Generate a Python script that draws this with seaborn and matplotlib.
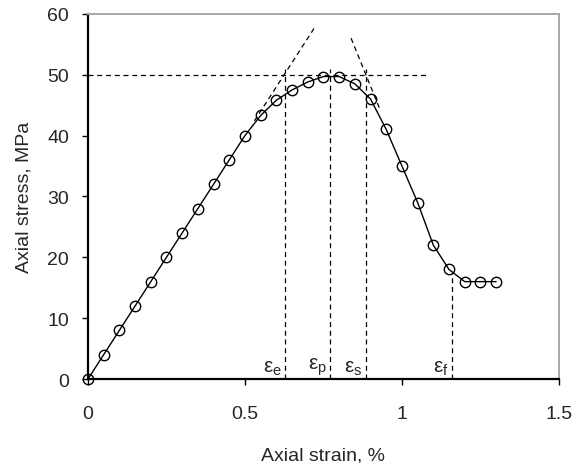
import pandas as pd
import seaborn as sns
import matplotlib.pyplot as plt

# Data
strain = [0, 0.05, 0.1, 0.15, 0.2, 0.25, 0.3, 0.35, 0.4, 0.45, 0.5, 0.55, 0.6, 0.65,
          0.7, 0.75, 0.8, 0.85, 0.9, 0.95, 1.0, 1.05, 1.1, 1.15, 1.2, 1.25, 1.3]
stress = [0, 4, 8, 12, 16, 20, 24, 28, 32, 36, 40, 43.3, 45.8, 47.5,
          48.8, 49.7, 49.7, 48.5, 46, 41, 35, 29, 22, 18, 16, 16, 16]

# Characteristic strains and their marker heights
eps_names = ["e", "p", "s", "f"]
eps_x = [0.627, 0.771, 0.885, 1.16]
eps_top = [51, 51, 51, 17.5]

peak_line_x = [0, 1.08]
peak_line_y = [50, 50]
tangent1_x = [0.53, 0.725]
tangent1_y = [42.4, 58]
tangent2_x = [0.838, 0.93]
tangent2_y = [56, 44.3]

sns.set_style("ticks")
plt.rcParams["font.family"] = ["Liberation Sans", "DejaVu Sans"]
plt.rcParams["mathtext.fontset"] = "custom"
plt.rcParams["mathtext.rm"] = "Liberation Sans"

df = pd.DataFrame({"strain": strain, "stress": stress})

fig = plt.figure(figsize=(5.75, 4.64), dpi=100)
ax = fig.add_axes([0.153, 0.181, 0.819, 0.787])

dash = dict(color="black", lw=0.9, dashes=(4, 3))
ax.plot(peak_line_x, peak_line_y, **dash)
ax.plot(tangent1_x, tangent1_y, **dash)
ax.plot(tangent2_x, tangent2_y, **dash)
for name, x, top in zip(eps_names, eps_x, eps_top):
    ax.plot([x, x], [0, top], **dash)
    ax.text(x - 0.01, 0.3, r"$\mathrm{ε_%s}$" % name, ha="right", va="bottom",
            fontsize=15)

sns.lineplot(data=df, x="strain", y="stress", ax=ax, color="black", lw=1,
             marker="o", markersize=7.5, markerfacecolor="none",
             markeredgecolor="black", markeredgewidth=1, clip_on=False)

ax.set_xlim(0, 1.5)
ax.set_ylim(0, 60)
ax.set_xticks([0, 0.5, 1, 1.5])
ax.set_xticklabels(["0", "0.5", "1", "1.5"])
ax.set_yticks(range(0, 61, 10))
ax.tick_params(axis="both", labelsize=14, length=4.5, width=1, color="black")
ax.tick_params(axis="x", pad=14)
ax.tick_params(axis="y", pad=9)
ax.set_xlabel("Axial strain, %", fontsize=14, labelpad=18)
ax.set_ylabel("Axial stress, MPa", fontsize=14, labelpad=11)

for s in ["left", "bottom"]:
    ax.spines[s].set_color("black")
    ax.spines[s].set_linewidth(1.6)
for s in ["top", "right"]:
    ax.spines[s].set_color("#a8a8a8")
    ax.spines[s].set_linewidth(1.4)

plt.savefig("out.png", dpi=100)
